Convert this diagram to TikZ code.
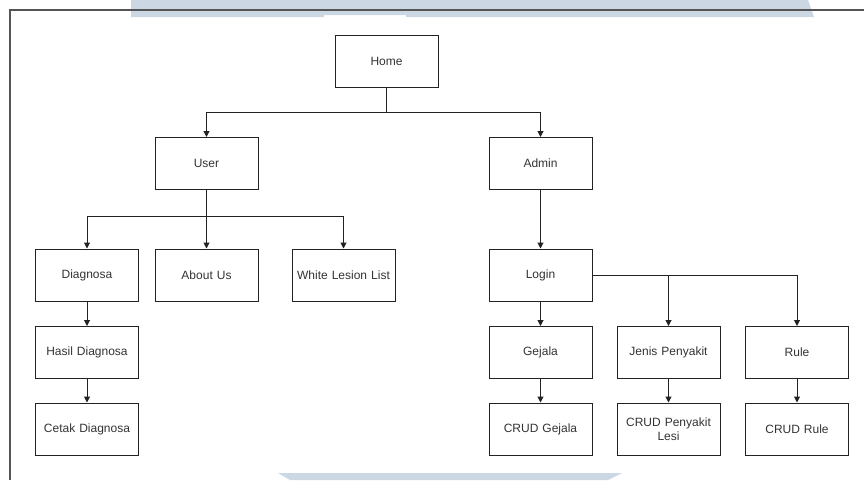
\documentclass[tikz,border=0pt]{standalone}
\usepackage{fontspec}
\setmainfont{Liberation Sans}
\usetikzlibrary{arrows.meta}
\definecolor{bandblue}{HTML}{CBD8E4}
\definecolor{framegray}{HTML}{555555}
\definecolor{inkgray}{HTML}{222222}
\definecolor{textgray}{HTML}{333333}
\tikzset{
  menubox/.style={draw=inkgray, line width=1pt, rectangle, minimum width=103pt,
    minimum height=52pt, inner sep=2pt, align=center, text width=97pt,
    font=\fontsize{12pt}{13.5pt}\selectfont, text=textgray},
  link/.style={draw=inkgray, line width=1pt, -{Triangle[length=6pt,width=6pt]}},
  trunk/.style={draw=inkgray, line width=1pt}
}
\begin{document}
\begin{tikzpicture}[x=1pt,y=-1pt]
  \useasboundingbox (0,0) rectangle (864,480);
  % pale banners at top and bottom edges
  \fill[bandblue] (131,0) -- (808,0) -- (814,17) -- (406,17) -- (406,15)
    -- (324,15) -- (324,17) -- (131,17) -- cycle;
  \fill[bandblue] (278,473) -- (622,473) -- (608,480) -- (290,480) -- cycle;
  % outer frame (top and left edges)
  \draw[framegray, line width=1.6pt] (10,480) -- (10,10) -- (864,10);

  % menu boxes
  \node[menubox] (home)   at (386.5,61)    {Home};
  \node[menubox] (user)   at (206.5,163.5) {User};
  \node[menubox] (admin)  at (540.5,163.5) {Admin};
  \node[menubox] (diag)   at (87,275)      {Diagnosa};
  \node[menubox] (about)  at (206.5,275)   {About Us};
  \node[menubox] (white)  at (343.5,275)   {White Lesion List};
  \node[menubox] (login)  at (540.5,275)   {Login};
  \node[menubox] (hasil)  at (87,352.5)    {Hasil Diagnosa};
  \node[menubox] (gejala) at (540.5,352.5) {Gejala};
  \node[menubox] (jenis)  at (668.5,352.5) {Jenis Penyakit};
  \node[menubox] (rule)   at (797,352.5)   {Rule};
  \node[menubox] (cetak)  at (87,429)      {Cetak Diagnosa};
  \node[menubox] (crudg)  at (540.5,429)   {CRUD Gejala};
  \node[menubox] (crudp)  at (668.5,429)   {CRUD Penyakit\\Lesi};
  \node[menubox] (crudr)  at (797,429)     {CRUD Rule};

  % branch points
  \coordinate (hsplit) at (386.5,112);
  \coordinate (usplit) at (206.5,216);

  % Home -> User / Admin
  \draw[trunk] (home.south) -- (hsplit);
  \draw[link] (hsplit) -| (user.north);
  \draw[link] (hsplit) -| (admin.north);

  % User -> pages
  \draw[trunk] (user.south) -- (usplit);
  \draw[link] (usplit) -| (diag.north);
  \draw[link] (usplit) -- (about.north);
  \draw[link] (usplit) -| (white.north);
  \draw[link] (diag) -- (hasil);
  \draw[link] (hasil) -- (cetak);

  % Admin -> Login -> management pages
  \draw[link] (admin) -- (login);
  \draw[link] (login) -- (gejala);
  \draw[link] (login.east) -| (jenis.north);
  \draw[link] (login.east) -| (rule.north);
  \draw[link] (gejala) -- (crudg);
  \draw[link] (jenis) -- (crudp);
  \draw[link] (rule) -- (crudr);
\end{tikzpicture}
\end{document}
